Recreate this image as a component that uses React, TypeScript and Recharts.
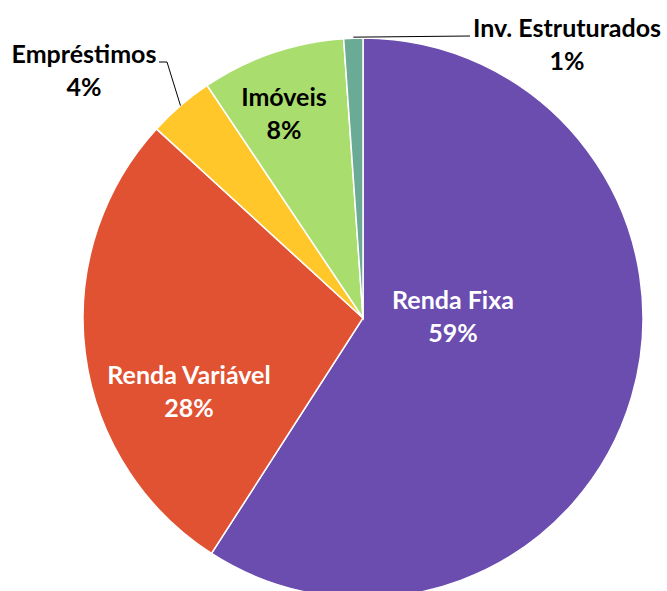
import { PieChart, Pie, Cell } from 'recharts';

const categories = ['Renda Fixa', 'Renda Variável', 'Empréstimos', 'Imóveis', 'Inv. Estruturados'];
const shares = [59.1, 27.7, 3.8, 8.3, 1.1];
const percentLabels = ['59%', '28%', '4%', '8%', '1%'];
const sliceColors = ['#6A4DAF', '#E05232', '#FFC72A', '#A9DE6E', '#6BAA94'];
const labelColors = ['#ffffff', '#ffffff', '#000000', '#000000', '#000000'];

// label block centers relative to pie center (Excel-style placement)
const labelOffsets: Array<[number, number]> = [
  [90, -2],
  [-174, 73],
  [-279, -248],
  [-79, -205],
  [204, -274],
];

const data = categories.map((name, i) => ({
  name,
  value: shares[i],
  pct: percentLabels[i],
}));

const renderLabel = (props: any) => {
  const { cx, cy, index, midAngle, outerRadius } = props;
  const [dx, dy] = labelOffsets[index];
  const x = cx + dx;
  const y = cy + dy;
  const rad = Math.PI / 180;
  let leader = null;
  if (index === 2) {
    const px = cx + outerRadius * Math.cos(-midAngle * rad);
    const py = cy + outerRadius * Math.sin(-midAngle * rad);
    leader = (
      <polyline
        points={`${x + 75},${y - 8} ${x + 83},${y - 8} ${px},${py}`}
        fill="none"
        stroke="#000"
        strokeWidth={1}
      />
    );
  }
  if (index === 4) {
    const px = cx + (outerRadius + 1) * Math.cos(-midAngle * rad);
    const py = cy + (outerRadius + 1) * Math.sin(-midAngle * rad);
    leader = (
      <polyline
        points={`${x - 97},${y - 8} ${px},${py}`}
        fill="none"
        stroke="#000"
        strokeWidth={1}
      />
    );
  }
  return (
    <g key={`lbl-${index}`}>
      {leader}
      <text
        x={x}
        y={y}
        textAnchor="middle"
        fill={labelColors[index]}
        fontFamily="Lato, 'Open Sans', sans-serif"
        fontWeight={700}
        fontSize={25}
      >
        <tspan x={x} dy={-7}>{categories[index]}</tspan>
        <tspan x={x} dy={33}>{percentLabels[index]}</tspan>
      </text>
    </g>
  );
};

export default function App() {
  return (
    <div style={{ position: 'absolute', left: 0, top: 0, background: '#fff' }}>
      <PieChart width={667} height={591} margin={{ top: 0, right: 0, bottom: 0, left: 0 }}>
        <Pie
          data={data}
          dataKey="value"
          nameKey="name"
          cx={363}
          cy={318}
          outerRadius={280}
          startAngle={90}
          endAngle={-270}
          stroke="#ffffff"
          strokeWidth={1.5}
          label={renderLabel}
          labelLine={false}
          isAnimationActive={false}
        >
          {data.map((entry, i) => (
            <Cell key={entry.name} fill={sliceColors[i]} />
          ))}
        </Pie>
      </PieChart>
    </div>
  );
}
